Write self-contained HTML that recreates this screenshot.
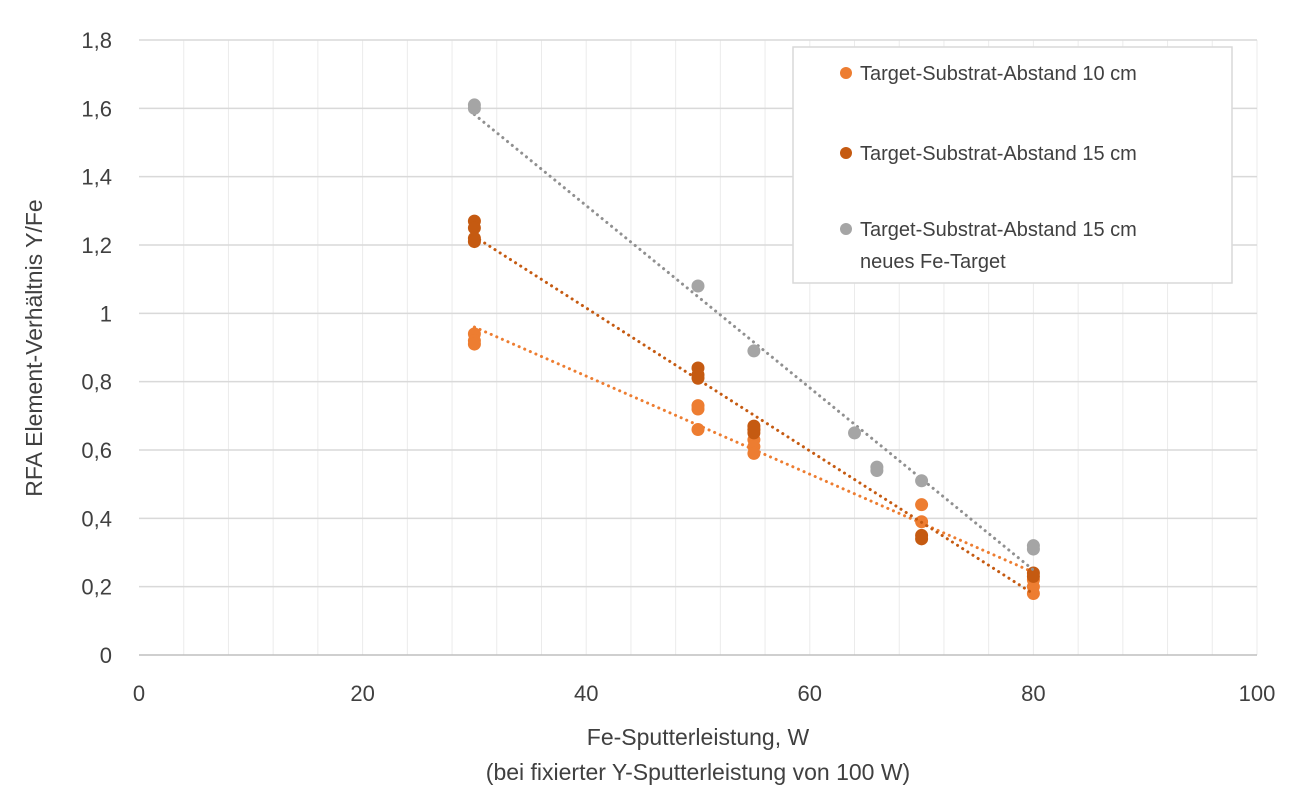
<!DOCTYPE html>
<html><head><meta charset="utf-8"><style>
body{margin:0;background:#fff;font-family:"Liberation Sans",sans-serif}
svg text{font-family:"Liberation Sans",sans-serif;fill:#404040}
</style></head><body>
<svg id="c" width="1300" height="800"></svg>
<script>
const xTicks=[0,20,40,60,80,100];
const yTicks=[0,0.2,0.4,0.6,0.8,1,1.2,1.4,1.6,1.8];
const yTickLabels=["0","0,2","0,4","0,6","0,8","1","1,2","1,4","1,6","1,8"];
const s1x=[30,30,30,50,50,50,55,55,55,55,70,70,80,80,80];
const s1y=[0.94,0.92,0.91,0.73,0.72,0.66,0.66,0.63,0.61,0.59,0.44,0.39,0.22,0.20,0.18];
const s2x=[30,30,30,30,50,50,50,55,55,55,70,70,80,80];
const s2y=[1.27,1.25,1.22,1.21,0.84,0.82,0.81,0.67,0.66,0.65,0.35,0.34,0.24,0.23];
const s3x=[30,30,50,55,64,66,66,70,80,80];
const s3y=[1.61,1.60,1.08,0.89,0.65,0.55,0.54,0.51,0.32,0.31];
const names=["Target-Substrat-Abstand 10 cm","Target-Substrat-Abstand 15 cm","Target-Substrat-Abstand 15 cm"];
const L=139,R=1257,T=40,B=655;
const X=v=>L+(v/100)*(R-L), Y=v=>B-(v/1.8)*(B-T);
const svg=document.getElementById('c');const NS="http://www.w3.org/2000/svg";
function mk(t,a,p){const e=document.createElementNS(NS,t);for(const k in a)e.setAttribute(k,a[k]);(p||svg).appendChild(e);return e;}
for(let v=4;v<100;v+=4){const l=mk('line',{x1:X(v),x2:X(v),y1:T,y2:B,stroke:'#ebebeb','stroke-width':1});
}
mk('line',{x1:R,x2:R,y1:T,y2:B,stroke:'#ebebeb'});
yTicks.forEach((v,i)=>{const l=mk('line',{x1:L,x2:R,y1:Y(v),y2:Y(v),stroke:i==0?'#bfbfbf':'#d9d9d9','stroke-width':1.5});

const t=mk('text',{x:112,y:Y(v)+8,'text-anchor':'end','font-size':22});t.textContent=yTickLabels[i];
});
xTicks.forEach(v=>{const t=mk('text',{x:X(v),y:701,'text-anchor':'middle','font-size':22});t.textContent=v;
});
const cols=['#ED7D31','#C55A11','#A5A5A5'];
const trendCols=['#ED7D31','#C55A11','#909090'];
[[s1x,s1y],[s2x,s2y],[s3x,s3y]].forEach(([xs,ys],si)=>{
const n=xs.length,mx=xs.reduce((a,b)=>a+b)/n,my=ys.reduce((a,b)=>a+b)/n;
let sxy=0,sxx=0;for(let i=0;i<n;i++){sxy+=(xs[i]-mx)*(ys[i]-my);sxx+=(xs[i]-mx)**2;}
const m=sxy/sxx,b=my-m*mx,x0=Math.min(...xs),x1=Math.max(...xs);
const tl=mk('line',{x1:X(x0),y1:Y(m*x0+b),x2:X(x1),y2:Y(m*x1+b),stroke:trendCols[si],'stroke-width':3,'stroke-dasharray':'0.1 6','stroke-linecap':'round'});

for(let i=0;i<n;i++){const c=mk('circle',{cx:X(xs[i]),cy:Y(ys[i]),r:6.5,fill:cols[si]});
}
});
const lg=mk('g',{});
mk('rect',{x:793,y:47,width:439,height:236,fill:'#fff',stroke:'#d9d9d9','stroke-width':1.5},lg);
[73,153,229].forEach((y,i)=>{mk('circle',{cx:846,cy:y,r:6,fill:cols[i]},lg);
const t=mk('text',{x:860,y:y+7,'font-size':20},lg);t.textContent=names[i];
});
const t4=mk('text',{x:860,y:268,'font-size':20},lg);t4.textContent='neues Fe-Target';

const xt=mk('text',{x:698,y:745,'text-anchor':'middle','font-size':23});xt.textContent='Fe-Sputterleistung, W';

const xt2=mk('text',{x:698,y:780,'text-anchor':'middle','font-size':23});xt2.textContent='(bei fixierter Y-Sputterleistung von 100 W)';

const yt=mk('text',{x:0,y:0,'text-anchor':'middle','font-size':23,transform:'translate(42,348) rotate(-90)'});yt.textContent='RFA Element-Verhältnis Y/Fe';

</script>
</body></html>
